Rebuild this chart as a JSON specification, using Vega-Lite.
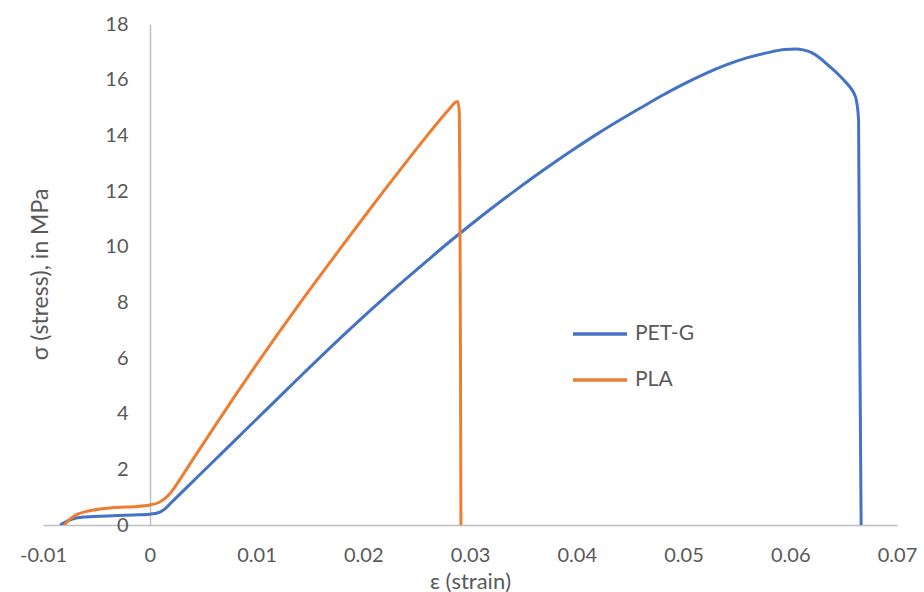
{
  "$schema": "https://vega.github.io/schema/vega-lite/v6.json",
  "width": 854,
  "height": 501,
  "autosize": "none",
  "padding": {"left": 43, "top": 24, "right": 27, "bottom": 67},
  "background": "white",
  "config": {
    "view": {"stroke": null},
    "font": "Lato"
  },
  "data": {
    "values": [
      {"series": "PET-G", "strain": -0.0084, "stress": 0},
      {"series": "PET-G", "strain": -0.0077, "stress": 0.15},
      {"series": "PET-G", "strain": -0.0069, "stress": 0.25},
      {"series": "PET-G", "strain": -0.006, "stress": 0.29},
      {"series": "PET-G", "strain": -0.0047, "stress": 0.31},
      {"series": "PET-G", "strain": -0.003, "stress": 0.34},
      {"series": "PET-G", "strain": -0.0015, "stress": 0.36},
      {"series": "PET-G", "strain": 0, "stress": 0.39},
      {"series": "PET-G", "strain": 0.0008, "stress": 0.44},
      {"series": "PET-G", "strain": 0.0014, "stress": 0.57},
      {"series": "PET-G", "strain": 0.002, "stress": 0.8},
      {"series": "PET-G", "strain": 0.004, "stress": 1.55},
      {"series": "PET-G", "strain": 0.006, "stress": 2.3},
      {"series": "PET-G", "strain": 0.008, "stress": 3.05},
      {"series": "PET-G", "strain": 0.01, "stress": 3.8},
      {"series": "PET-G", "strain": 0.012, "stress": 4.55},
      {"series": "PET-G", "strain": 0.014, "stress": 5.3},
      {"series": "PET-G", "strain": 0.016, "stress": 6.04},
      {"series": "PET-G", "strain": 0.018, "stress": 6.77},
      {"series": "PET-G", "strain": 0.02, "stress": 7.48},
      {"series": "PET-G", "strain": 0.022, "stress": 8.17},
      {"series": "PET-G", "strain": 0.024, "stress": 8.84},
      {"series": "PET-G", "strain": 0.026, "stress": 9.5},
      {"series": "PET-G", "strain": 0.028, "stress": 10.15},
      {"series": "PET-G", "strain": 0.03, "stress": 10.77},
      {"series": "PET-G", "strain": 0.032, "stress": 11.37},
      {"series": "PET-G", "strain": 0.034, "stress": 11.95},
      {"series": "PET-G", "strain": 0.036, "stress": 12.51},
      {"series": "PET-G", "strain": 0.038, "stress": 13.05},
      {"series": "PET-G", "strain": 0.04, "stress": 13.57},
      {"series": "PET-G", "strain": 0.042, "stress": 14.07},
      {"series": "PET-G", "strain": 0.044, "stress": 14.54},
      {"series": "PET-G", "strain": 0.046, "stress": 14.99},
      {"series": "PET-G", "strain": 0.048, "stress": 15.43},
      {"series": "PET-G", "strain": 0.05, "stress": 15.84},
      {"series": "PET-G", "strain": 0.052, "stress": 16.21},
      {"series": "PET-G", "strain": 0.054, "stress": 16.53},
      {"series": "PET-G", "strain": 0.056, "stress": 16.79},
      {"series": "PET-G", "strain": 0.058, "stress": 16.98},
      {"series": "PET-G", "strain": 0.0595, "stress": 17.08},
      {"series": "PET-G", "strain": 0.0605, "stress": 17.1},
      {"series": "PET-G", "strain": 0.0613, "stress": 17.06},
      {"series": "PET-G", "strain": 0.062, "stress": 16.97},
      {"series": "PET-G", "strain": 0.0628, "stress": 16.77},
      {"series": "PET-G", "strain": 0.0636, "stress": 16.5},
      {"series": "PET-G", "strain": 0.0644, "stress": 16.23},
      {"series": "PET-G", "strain": 0.0651, "stress": 15.95},
      {"series": "PET-G", "strain": 0.0656, "stress": 15.73},
      {"series": "PET-G", "strain": 0.066, "stress": 15.48},
      {"series": "PET-G", "strain": 0.0662, "stress": 15.25},
      {"series": "PET-G", "strain": 0.0664, "stress": 14.55},
      {"series": "PET-G", "strain": 0.0665, "stress": 7.4},
      {"series": "PET-G", "strain": 0.06664, "stress": 0},
      {"series": "PLA", "strain": -0.008, "stress": 0},
      {"series": "PLA", "strain": -0.0075, "stress": 0.2},
      {"series": "PLA", "strain": -0.0068, "stress": 0.38},
      {"series": "PLA", "strain": -0.006, "stress": 0.48},
      {"series": "PLA", "strain": -0.0045, "stress": 0.58},
      {"series": "PLA", "strain": -0.003, "stress": 0.63},
      {"series": "PLA", "strain": -0.0015, "stress": 0.66},
      {"series": "PLA", "strain": 0, "stress": 0.72},
      {"series": "PLA", "strain": 0.0008, "stress": 0.8},
      {"series": "PLA", "strain": 0.0014, "stress": 0.95},
      {"series": "PLA", "strain": 0.002, "stress": 1.18},
      {"series": "PLA", "strain": 0.003, "stress": 1.74},
      {"series": "PLA", "strain": 0.004, "stress": 2.33},
      {"series": "PLA", "strain": 0.006, "stress": 3.5},
      {"series": "PLA", "strain": 0.008, "stress": 4.65},
      {"series": "PLA", "strain": 0.01, "stress": 5.77},
      {"series": "PLA", "strain": 0.012, "stress": 6.87},
      {"series": "PLA", "strain": 0.014, "stress": 7.94},
      {"series": "PLA", "strain": 0.016, "stress": 8.98},
      {"series": "PLA", "strain": 0.018, "stress": 10.01},
      {"series": "PLA", "strain": 0.02, "stress": 11.03},
      {"series": "PLA", "strain": 0.022, "stress": 12.04},
      {"series": "PLA", "strain": 0.024, "stress": 13.03},
      {"series": "PLA", "strain": 0.026, "stress": 14.0},
      {"series": "PLA", "strain": 0.028, "stress": 14.92},
      {"series": "PLA", "strain": 0.0287, "stress": 15.2},
      {"series": "PLA", "strain": 0.02885, "stress": 15.22},
      {"series": "PLA", "strain": 0.029, "stress": 14.8},
      {"series": "PLA", "strain": 0.02905, "stress": 12.0},
      {"series": "PLA", "strain": 0.0291, "stress": 7.0},
      {"series": "PLA", "strain": 0.02915, "stress": 0}
    ]
  },
  "mark": {"type": "line", "strokeWidth": 3, "interpolate": "monotone", "clip": true},
  "encoding": {
    "x": {
      "field": "strain",
      "type": "quantitative",
      "scale": {"domain": [-0.01, 0.07], "nice": false, "zero": false},
      "axis": {
        "title": "ε (strain)",
        "values": [-0.01, 0, 0.01, 0.02, 0.03, 0.04, 0.05, 0.06, 0.07],
        "labelExpr": "'' + datum.value",
        "grid": false,
        "ticks": false,
        "tickSize": 0,
        "domainColor": "#BFBFBF",
        "domainWidth": 1.5,
        "labelColor": "#595959",
        "labelFontSize": 20,
        "labelPadding": 20,
        "labelFlush": false,
        "titleColor": "#595959",
        "titleFontSize": 22,
        "titleFontWeight": "normal",
        "titleY": 56,
        "titleBaseline": "middle"
      }
    },
    "y": {
      "field": "stress",
      "type": "quantitative",
      "scale": {"domain": [0, 18], "nice": false},
      "axis": {
        "title": "σ (stress), in MPa",
        "values": [0, 2, 4, 6, 8, 10, 12, 14, 16, 18],
        "offset": -107,
        "grid": false,
        "ticks": false,
        "tickSize": 0,
        "domainColor": "#BFBFBF",
        "domainWidth": 1.5,
        "labelColor": "#595959",
        "labelFontSize": 20,
        "labelPadding": 22,
        "labelFlush": false,
        "titleColor": "#595959",
        "titleFontSize": 23,
        "titleFontWeight": "normal",
        "titleX": -110,
        "titleY": 250,
        "titleBaseline": "middle",
        "titleAngle": -90
      }
    },
    "color": {
      "field": "series",
      "type": "nominal",
      "scale": {"domain": ["PET-G", "PLA"], "range": ["#4472C4", "#ED7D31"]},
      "legend": {
        "title": null,
        "orient": "none",
        "legendX": 528,
        "legendY": 300,
        "symbolType": "stroke",
        "symbolSize": 2916,
        "symbolStrokeWidth": 3.5,
        "clipHeight": 20,
        "rowPadding": 25,
        "labelOffset": 6,
        "labelColor": "#595959",
        "labelFontSize": 21
      }
    }
  }
}
